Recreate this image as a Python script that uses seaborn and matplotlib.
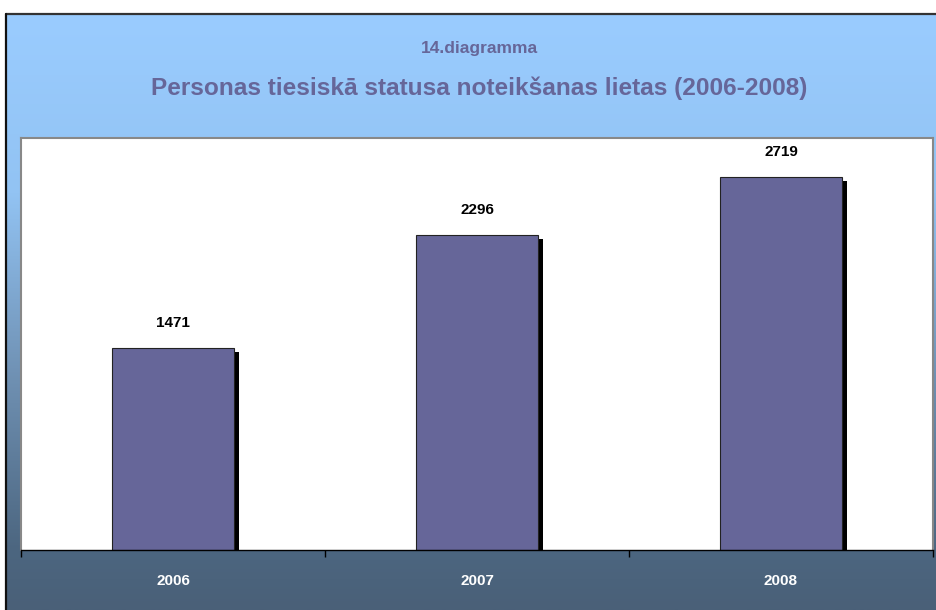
import numpy as np
import pandas as pd
import seaborn as sns
import matplotlib
matplotlib.use("Agg")
import matplotlib.pyplot as plt
from matplotlib import patheffects as pe
from matplotlib.colors import LinearSegmentedColormap
from matplotlib.lines import Line2D

# ---- data ----
years = ['2006', '2007', '2008']
values = [1471, 2296, 2719]
subtitle = '14.diagramma'
title = 'Personas tiesiskā statusa noteikšanas lietas (2006-2008)'

sns.set_style('white')
plt.rcParams['font.family'] = ['Liberation Sans', 'DejaVu Sans']

W, H = 937, 610
fig = plt.figure(figsize=(W / 100, H / 100), dpi=100)
fig.patch.set_facecolor('white')

# gradient background
bg = fig.add_axes([6 / W, 0, 1 - 6 / W, (H - 14) / H])
cmap = LinearSegmentedColormap.from_list(
    'bg', [(0, '#9ACCFF'), (0.3, '#92C3F3'), (0.62, '#6E8FB1'), (0.9, '#4C6680'), (1, '#4A6078')])
grad = np.linspace(0, 1, 256).reshape(-1, 1)
bg.imshow(grad, aspect='auto', cmap=cmap, extent=[0, 1, 0, 1], origin='upper')
bg.set_axis_off()

# outer border lines
fig.add_artist(Line2D([6 / W, 1], [(H - 14) / H] * 2, color='#333333', lw=1.6))
fig.add_artist(Line2D([6 / W] * 2, [0, (H - 14) / H], color='#111111', lw=1.6))

# main axes
ax = fig.add_axes([21 / W, 60 / H, 912 / W, 412 / H])
ax.set_facecolor('white')
df = pd.DataFrame({'year': years, 'value': values})
sns.barplot(data=df, x='year', y='value', color='#666699', saturation=1,
            width=0.4, edgecolor='#222222', linewidth=0.8, ax=ax)
for p in ax.patches:
    p.set_path_effects([pe.SimplePatchShadow(offset=(3.6, -3), shadow_rgbFace='black', alpha=1),
                        pe.Normal()])

ax.set_ylim(0, 3000)
ax.set_xlim(-0.5, 2.5)
ax.set_yticks([])
ax.set_xlabel('')
ax.set_ylabel('')

for c in ax.containers:
    ax.bar_label(c, labels=[str(v) for v in values], padding=13,
                 fontsize=11, fontweight='bold', color='black')

for s in ['left', 'top', 'right']:
    ax.spines[s].set_color('#888888')
    ax.spines[s].set_linewidth(1.5)
ax.spines['bottom'].set_color('black')
ax.spines['bottom'].set_linewidth(1.0)

ax.set_xticks([0, 1, 2])
ax.set_xticks([-0.5, 0.5, 1.5, 2.5], minor=True)
ax.tick_params(axis='x', which='major', length=0, pad=17, labelsize=11,
               labelcolor='white')
for t in ax.get_xticklabels():
    t.set_fontweight('bold')
ax.tick_params(axis='x', which='minor', length=5, width=1, color='black', direction='out',
               bottom=True)

fig.text(479 / W, 1 - 48 / H, subtitle, ha='center', va='center',
         color='#666699', fontsize=12.5, fontweight='bold')
fig.text(479 / W, 1 - 88 / H, title, ha='center', va='center',
         color='#666699', fontsize=17.6, fontweight='bold')

fig.savefig('out.png', dpi=100)
